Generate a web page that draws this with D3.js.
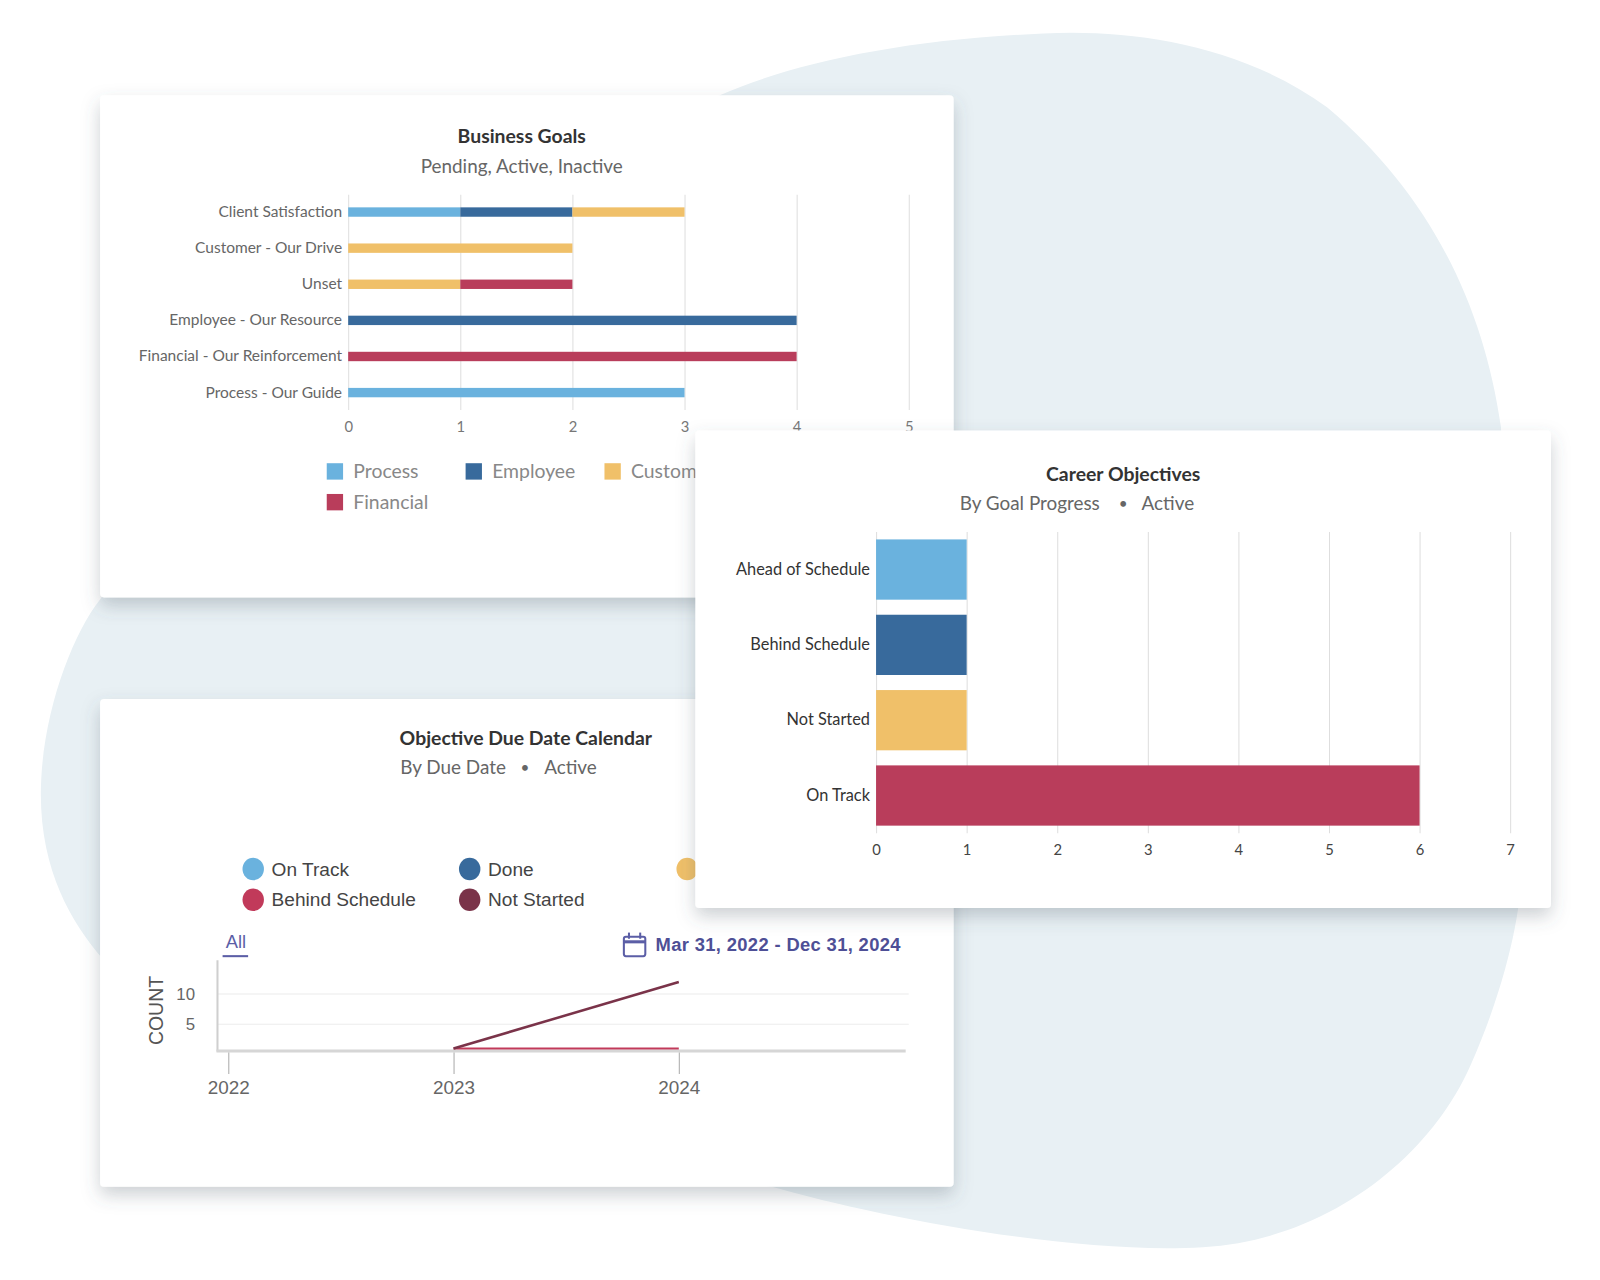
<!DOCTYPE html>
<html>
<head>
<meta charset="utf-8">
<script src="https://cdn.jsdelivr.net/npm/d3@7"></script>
<style>
  html, body { margin: 0; padding: 0; background: #fff; }
  svg { display: block; }
</style>
</head>
<body>
<div id="chart"></div>
<script>
// Business Goals (stacked horizontal bars)
const goalCategories = ['Client Satisfaction', 'Customer - Our Drive', 'Unset', 'Employee - Our Resource', 'Financial - Our Reinforcement', 'Process - Our Guide'];
const goalSeries = ['Process', 'Employee', 'Customer', 'Financial'];
const processValues = [1, 0, 0, 0, 0, 3];
const employeeValues = [1, 0, 0, 4, 0, 0];
const customerValues = [1, 2, 1, 0, 0, 0];
const financialValues = [0, 0, 1, 0, 4, 0];
const goalTicks = [0, 1, 2, 3, 4, 5];

// Career Objectives
const careerCategories = ['Ahead of Schedule', 'Behind Schedule', 'Not Started', 'On Track'];
const careerValues = [1, 1, 1, 6];
const careerTicks = [0, 1, 2, 3, 4, 5, 6, 7];

// Objective Due Date Calendar
const calendarLegend = ['On Track', 'Done', 'Ahead of Schedule', 'Behind Schedule', 'Not Started'];
const dueYears = [2023, 2024];
const notStartedCounts = [1, 12];
const behindScheduleCounts = [1, 1];
const countTicks = [5, 10];
const yearTicks = [2022, 2023, 2024];

const colors = {
  lightBlue: '#6ab2de',
  darkBlue: '#386a9c',
  yellow: '#f0c069',
  crimson: '#b93d5b',
  maroon: '#7a3349'
};
const goalColors = [colors.lightBlue, colors.darkBlue, colors.yellow, colors.crimson];
const careerColors = [colors.lightBlue, colors.darkBlue, colors.yellow, colors.crimson];
const calendarColors = [colors.lightBlue, colors.darkBlue, colors.yellow, '#c13a5a', colors.maroon];

const sans = 'Lato, "Open Sans", sans-serif';
const helv = '"Liberation Sans", Arial, sans-serif';
const intFmt = d3.format('d');

const svg = d3.select('#chart')
  .append('svg')
  .attr('width', 1600)
  .attr('height', 1280)
  .attr('viewBox', '0 0 1567 1249')
  .attr('preserveAspectRatio', 'none');

const defs = svg.append('defs');
const shadow = defs.append('filter')
  .attr('id', 'shadow')
  .attr('x', '-10%').attr('y', '-10%')
  .attr('width', '120%').attr('height', '130%');
shadow.append('feDropShadow')
  .attr('dx', 0).attr('dy', 8)
  .attr('stdDeviation', 9)
  .attr('flood-color', '#4a5a66')
  .attr('flood-opacity', 0.28);

// background blob
svg.append('path')
  .attr('fill', '#e8f0f4')
  .attr('d', 'M 98 585 C 70 620, 40 700, 40 775 C 40 850, 70 900, 100 935 L 300 1100 L 756 1158 ' +
    'C 850 1185, 1050 1225, 1178 1217 C 1300 1210, 1400 1130, 1440 1040 C 1480 950, 1490 880, 1490 850 ' +
    'L 1470 417 C 1452 290, 1395 185, 1300 105 C 1225 50, 1130 32, 1050 32 C 900 35, 780 60, 705 93 ' +
    'L 300 300 Z');

function card(x, y, w, h) {
  const g = svg.append('g');
  g.append('rect')
    .attr('x', x).attr('y', y)
    .attr('width', w).attr('height', h)
    .attr('rx', 4)
    .attr('fill', '#fff')
    .attr('filter', 'url(#shadow)');
  return g;
}

function title(g, text, x, y) {
  g.append('text')
    .attr('x', x).attr('y', y).attr('dy', '0.35em')
    .attr('text-anchor', 'middle')
    .attr('font-family', sans).attr('font-weight', 700)
    .attr('font-size', 19).attr('fill', '#333')
    .text(text);
}

function subtitle(g, parts, y) {
  parts.forEach(p => {
    g.append('text')
      .attr('x', p.x).attr('y', y).attr('dy', '0.35em')
      .attr('text-anchor', p.anchor || 'start')
      .attr('font-family', sans)
      .attr('font-size', p.size || 18.5).attr('fill', '#666')
      .text(p.text);
  });
}

// ---------- Business Goals ----------
const c1 = card(98, 93, 836, 490);
title(c1, 'Business Goals', 511, 133);
subtitle(c1, [{ text: 'Pending, Active, Inactive', x: 511, anchor: 'middle' }], 162);

const gx = d3.scaleLinear().domain([0, 5]).range([341, 890]);
const gy = d3.scaleBand().domain(goalCategories).range([190, 400]).paddingInner(0.74).paddingOuter(0.35);

const goalRows = goalCategories.map((c, i) => ({
  category: c,
  Process: processValues[i],
  Employee: employeeValues[i],
  Customer: customerValues[i],
  Financial: financialValues[i]
}));
const goalStack = d3.stack().keys(goalSeries)(goalRows);

const gGrid = c1.append('g')
  .attr('transform', 'translate(0,400)')
  .call(d3.axisBottom(gx).tickValues(goalTicks).tickFormat(intFmt).tickSize(-210).tickPadding(11));
gGrid.select('.domain').remove();
gGrid.selectAll('line').attr('stroke', '#dedede');
gGrid.selectAll('text').attr('font-family', sans).attr('font-size', 14.5).attr('fill', '#777');

goalStack.forEach((layer, li) => {
  c1.append('g').selectAll('rect')
    .data(layer.filter(d => d[1] - d[0] > 0))
    .enter()
    .append('rect')
    .attr('x', d => gx(d[0]))
    .attr('width', d => gx(d[1]) - gx(d[0]))
    .attr('y', d => gy(d.data.category))
    .attr('height', gy.bandwidth())
    .attr('fill', goalColors[li]);
});

const gLeft = c1.append('g')
  .attr('transform', 'translate(341,0)')
  .call(d3.axisLeft(gy).tickSize(0).tickPadding(6));
gLeft.select('.domain').remove();
gLeft.selectAll('text').attr('font-family', sans).attr('font-size', 15.2).attr('fill', '#666');

const goalLegendPos = [[320, 460], [456, 460], [592, 460], [320, 490]];
goalSeries.forEach((s, i) => {
  const [lx, ly] = goalLegendPos[i];
  c1.append('rect')
    .attr('x', lx).attr('y', ly - 8)
    .attr('width', 16).attr('height', 16)
    .attr('fill', goalColors[i]);
  c1.append('text')
    .attr('x', lx + 26).attr('y', ly).attr('dy', '0.35em')
    .attr('font-family', sans).attr('font-size', 19).attr('fill', '#888')
    .text(s);
});

// ---------- Objective Due Date Calendar ----------
const c3 = card(98, 682, 836, 476);
title(c3, 'Objective Due Date Calendar', 515, 720);
subtitle(c3, [
  { text: 'By Due Date', x: 392 },
  { text: '•', x: 514, anchor: 'middle', size: 15 },
  { text: 'Active', x: 533 }
], 749);

const calLegendPos = [[248, 848], [460, 848], [673, 848], [248, 878], [460, 878]];
calendarLegend.forEach((s, i) => {
  const [lx, ly] = calLegendPos[i];
  c3.append('ellipse')
    .attr('cx', lx).attr('cy', ly)
    .attr('rx', 10.5).attr('ry', 11)
    .attr('fill', calendarColors[i]);
  c3.append('text')
    .attr('x', lx + 18).attr('y', ly).attr('dy', '0.35em')
    .attr('font-family', helv).attr('font-size', 18.7).attr('fill', '#444')
    .text(s);
});

// "All" link
c3.append('text')
  .attr('x', 231).attr('y', 919).attr('dy', '0.35em')
  .attr('text-anchor', 'middle')
  .attr('font-family', helv).attr('font-size', 18).attr('fill', '#5b5ea6')
  .text('All');
c3.append('rect')
  .attr('x', 218).attr('y', 932).attr('width', 25).attr('height', 2)
  .attr('fill', '#5b5ea6');

// calendar icon + date range
const icon = c3.append('g').attr('fill', 'none').attr('stroke', '#5b5ea6').attr('stroke-width', 2);
icon.append('rect').attr('x', 611).attr('y', 914).attr('width', 21).attr('height', 19).attr('rx', 2);
icon.append('line').attr('x1', 611).attr('x2', 632).attr('y1', 919).attr('y2', 919).attr('stroke-width', 3);
icon.append('line').attr('x1', 616).attr('x2', 616).attr('y1', 910).attr('y2', 916);
icon.append('line').attr('x1', 627).attr('x2', 627).attr('y1', 910).attr('y2', 916);
c3.append('text')
  .attr('x', 642).attr('y', 922).attr('dy', '0.35em')
  .attr('font-family', helv).attr('font-weight', 700)
  .attr('font-size', 18).attr('fill', '#4e4f96')
  .attr('textLength', 240).attr('lengthAdjust', 'spacing')
  .text('Mar 31, 2022 - Dec 31, 2024');

const xT = d3.scaleTime().domain([new Date(2021, 11, 14), new Date(2025, 0, 1)]).range([212.7, 886]);
const yC = d3.scaleLinear().domain([0, 10]).range([1029, 970]);

// horizontal grid
c3.append('g').selectAll('line')
  .data(countTicks)
  .enter()
  .append('line')
  .attr('x1', 213).attr('x2', 890)
  .attr('y1', d => yC(d)).attr('y2', d => yC(d))
  .attr('stroke', '#ececec');

const yAx = c3.append('g')
  .attr('transform', 'translate(213,0)')
  .call(d3.axisLeft(yC).tickValues(countTicks).tickSize(0).tickPadding(22));
yAx.select('.domain').remove();
yAx.selectAll('text').attr('font-family', helv).attr('font-size', 16.5).attr('fill', '#666');

c3.append('line')
  .attr('x1', 213).attr('x2', 213).attr('y1', 937).attr('y2', 1026)
  .attr('stroke', '#cfcfcf').attr('stroke-width', 2);
c3.append('line')
  .attr('x1', 212).attr('x2', 887).attr('y1', 1025.5).attr('y2', 1025.5)
  .attr('stroke', '#d6d6d6').attr('stroke-width', 3);

c3.append('text')
  .attr('transform', 'translate(153,986) rotate(-90)')
  .attr('dy', '0.35em')
  .attr('text-anchor', 'middle')
  .attr('font-family', helv).attr('font-size', 19).attr('fill', '#555')
  .text('COUNT');

const xAx = c3.append('g')
  .attr('transform', 'translate(0,1027)')
  .call(d3.axisBottom(xT)
    .tickValues(yearTicks.map(y => new Date(y, 0, 1)))
    .tickSize(21).tickPadding(6)
    .tickFormat(d3.timeFormat('%Y')));
xAx.select('.domain').remove();
xAx.selectAll('line').attr('stroke', '#aaa');
xAx.selectAll('text').attr('font-family', helv).attr('font-size', 18.5).attr('fill', '#666');

const countLine = d3.line()
  .x(d => xT(new Date(d.year, 0, 1)))
  .y(d => yC(d.value));
c3.append('path')
  .datum(dueYears.map((y, i) => ({ year: y, value: behindScheduleCounts[i] })))
  .attr('fill', 'none').attr('stroke', '#c13a5a').attr('stroke-width', 2)
  .attr('d', countLine);
c3.append('path')
  .datum(dueYears.map((y, i) => ({ year: y, value: notStartedCounts[i] })))
  .attr('fill', 'none').attr('stroke', colors.maroon).attr('stroke-width', 2.5)
  .attr('d', countLine);

// ---------- Career Objectives ----------
const c2 = card(681, 420, 838, 466);
title(c2, 'Career Objectives', 1100, 463);
subtitle(c2, [
  { text: 'By Goal Progress', x: 940 },
  { text: '•', x: 1100, anchor: 'middle', size: 15 },
  { text: 'Active', x: 1118 }
], 491);

const cx = d3.scaleLinear().domain([0, 7]).range([858, 1479]);
const cy = d3.scaleBand().domain(careerCategories).range([519, 813]).paddingInner(0.2).paddingOuter(0.1);

const cGrid = c2.append('g')
  .attr('transform', 'translate(0,813)')
  .call(d3.axisBottom(cx).tickValues(careerTicks).tickFormat(intFmt).tickSize(-294).tickPadding(11));
cGrid.select('.domain').remove();
cGrid.selectAll('line').attr('stroke', '#dedede');
cGrid.selectAll('text').attr('font-family', sans).attr('font-size', 14.5).attr('fill', '#444');

c2.append('g').selectAll('rect')
  .data(careerCategories)
  .enter()
  .append('rect')
  .attr('x', cx(0))
  .attr('y', d => cy(d))
  .attr('width', (d, i) => cx(careerValues[i]) - cx(0))
  .attr('height', cy.bandwidth())
  .attr('fill', (d, i) => careerColors[i]);

const cLeft = c2.append('g')
  .attr('transform', 'translate(858,0)')
  .call(d3.axisLeft(cy).tickSize(0).tickPadding(6));
cLeft.select('.domain').remove();
cLeft.selectAll('text').attr('font-family', sans).attr('font-size', 16).attr('fill', '#333');
</script>
</body>
</html>
